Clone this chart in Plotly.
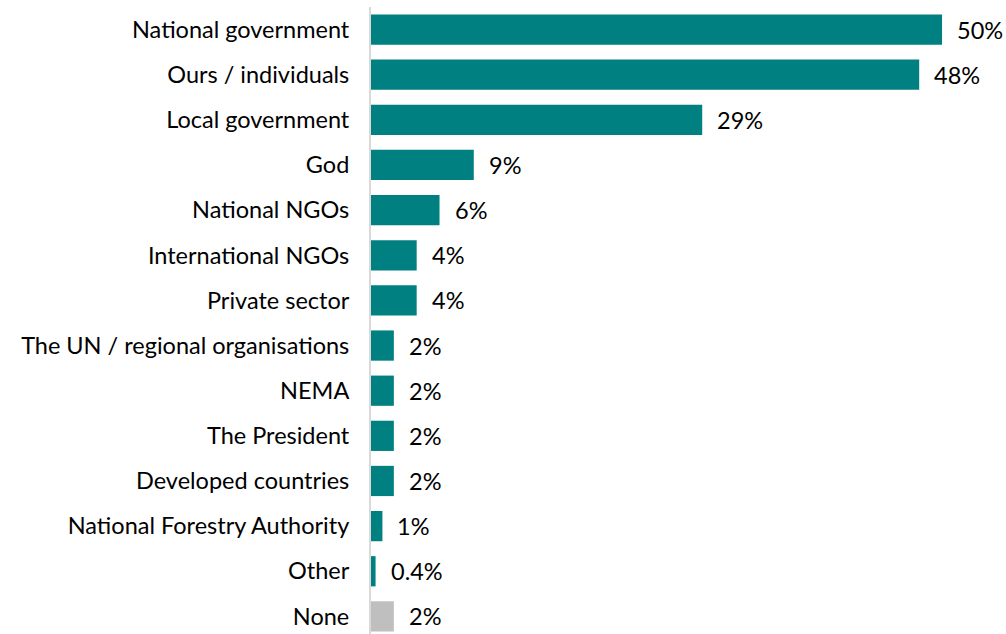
import plotly.graph_objects as go

# Who respondents see as responsible (share of respondents, %)
categories = [
    "National government",
    "Ours / individuals",
    "Local government",
    "God",
    "National NGOs",
    "International NGOs",
    "Private sector",
    "The UN / regional organisations",
    "NEMA",
    "The President",
    "Developed countries",
    "National Forestry Authority",
    "Other",
    "None",
]
values = [50, 48, 29, 9, 6, 4, 4, 2, 2, 2, 2, 1, 0.4, 2]
bar_colors = ["#008080"] * 13 + ["#BFBFBF"]

labels = [f"{v:g}%" for v in values]

font_family = "Lato, 'Noto Sans', 'DejaVu Sans', sans-serif"
font_size = 23.5

fig = go.Figure(
    go.Bar(
        x=values,
        y=categories,
        orientation="h",
        marker=dict(color=bar_colors, line=dict(width=0)),
        hoverinfo="skip",
    )
)

# value labels placed just right of each bar end
for cat, v, lab in zip(categories, values, labels):
    fig.add_annotation(
        x=v, y=cat, text=lab, showarrow=False,
        xanchor="left", yanchor="middle", xshift=13,
        font=dict(size=font_size, color="#000000", family=font_family),
    )

fig.update_layout(
    width=1006,
    height=634,
    margin=dict(l=371, r=0, t=7, b=0),
    paper_bgcolor="white",
    plot_bgcolor="white",
    bargap=0.33,
    showlegend=False,
    font=dict(family=font_family, size=font_size, color="#000000"),
)
fig.update_xaxes(
    range=[0, 55.6],
    visible=False,
    showgrid=False,
    zeroline=False,
)
fig.update_yaxes(
    categoryorder="array",
    categoryarray=categories,
    range=[13.39, -0.5],
    showgrid=False,
    zeroline=False,
    showline=True,
    linecolor="#D9D9D9",
    linewidth=2,
    ticks="",
    ticklabelstandoff=15,
    tickfont=dict(size=font_size, color="#000000", family=font_family),
)

fig.write_html("out.html")
